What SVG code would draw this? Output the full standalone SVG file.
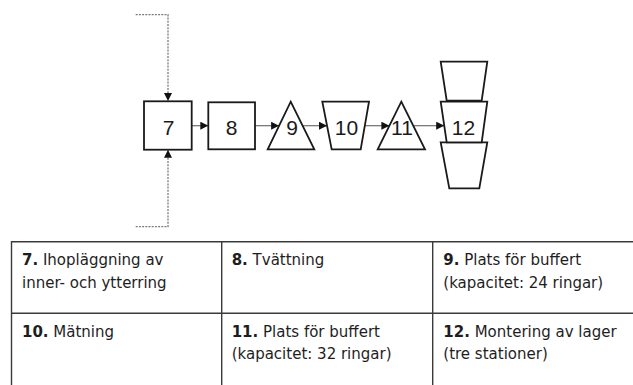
<svg xmlns="http://www.w3.org/2000/svg" width="633" height="385" viewBox="0 0 633 385">
  <style>
    .shape { fill: #ffffff; stroke: #1a1a1a; stroke-width: 1.8; stroke-linejoin: miter; }
    .num { font-family: "Liberation Sans", Arial, sans-serif; font-size: 21px; fill: #1a1a1a; text-anchor: middle; }
    .flow { fill: none; stroke: #6e6e6e; stroke-width: 1.2; marker-end: url(#head); }
    .feed { fill: none; stroke: #7a7a7a; stroke-width: 1.3; stroke-dasharray: 2 1.2; marker-end: url(#head); }
    .grid { stroke: #3a3a3a; stroke-width: 1.4; fill: none; }
    .cell { font-family: "DejaVu Sans", Verdana, sans-serif; font-size: 15px; fill: #1e1e1e; }
    .cell tspan.b { font-weight: bold; }
  </style>
  <defs>
    <marker id="head" viewBox="0 0 10 10" refX="10" refY="5" markerWidth="8" markerHeight="8" markerUnits="userSpaceOnUse" orient="auto">
      <path d="M0,0 L10,5 L0,10 Z" fill="#111111"/>
    </marker>
  </defs>

  <!-- process flow connectors -->
  <g id="connectors">
    <polyline class="feed" points="135.7,14.7 168,14.7 168,101"/>
    <polyline class="feed" points="135.7,226.7 168,226.7 168,149.7"/>
    <line class="flow" x1="191.7" y1="125.7" x2="208.3" y2="125.7"/>
    <line class="flow" x1="255" y1="125.7" x2="279.1" y2="125.7"/>
    <line class="flow" x1="302.6" y1="125.7" x2="327" y2="125.7"/>
    <line class="flow" x1="364.8" y1="125.7" x2="389.4" y2="125.7"/>
    <line class="flow" x1="413.3" y1="125.7" x2="444.2" y2="125.7"/>
  </g>

  <!-- stations -->
  <g id="node-7">
    <rect class="shape" x="144" y="101.3" width="47.7" height="48.4"/>
    <text class="num" x="168.5" y="134.7">7</text>
  </g>
  <g id="node-8">
    <rect class="shape" x="208.3" y="102.3" width="46.7" height="47"/>
    <text class="num" x="231.7" y="134.7">8</text>
  </g>
  <g id="node-9">
    <polygon class="shape" points="290.7,101.7 314.3,149.3 267.7,149.3"/>
    <text class="num" x="292" y="134.7">9</text>
  </g>
  <g id="node-10">
    <polygon class="shape" points="322.3,101.7 369,101.7 360.7,149.3 331.7,149.3"/>
    <text class="num" x="346.5" y="134.7">10</text>
  </g>
  <g id="node-11">
    <polygon class="shape" points="401.3,101.7 425,149.3 377.7,149.3"/>
    <text class="num" x="402" y="134.7">11</text>
  </g>
  <g id="node-12">
    <polygon class="shape" points="440.7,61.7 487.3,61.7 481.7,100.7 446.7,100.7"/>
    <polygon class="shape" points="449.3,188.3 479.3,188.3 487.3,142.3 440.7,142.3"/>
    <polygon class="shape" points="440.7,101.7 487.3,101.7 481.7,142.3 446.7,142.3"/>
    <text class="num" x="463.5" y="134.7">12</text>
  </g>

  <!-- legend table -->
  <g id="legend">
    <line class="grid" x1="11" y1="241.7" x2="633" y2="241.7"/>
    <line class="grid" x1="11" y1="313.3" x2="633" y2="313.3"/>
    <line class="grid" x1="11.5" y1="241" x2="11.5" y2="385"/>
    <line class="grid" x1="221.7" y1="241" x2="221.7" y2="385"/>
    <line class="grid" x1="432.7" y1="241" x2="432.7" y2="385"/>

    <text class="cell" x="22" y="265"><tspan class="b">7.</tspan> Ihopläggning av</text>
    <text class="cell" x="22" y="288">inner- och ytterring</text>
    <text class="cell" x="231.7" y="265"><tspan class="b">8.</tspan> Tvättning</text>
    <text class="cell" x="443.3" y="265"><tspan class="b">9.</tspan> Plats för buffert</text>
    <text class="cell" x="443.3" y="288">(kapacitet: 24 ringar)</text>

    <text class="cell" x="22" y="336.7"><tspan class="b">10.</tspan> Mätning</text>
    <text class="cell" x="231.7" y="336.7"><tspan class="b">11.</tspan> Plats för buffert</text>
    <text class="cell" x="231.7" y="359">(kapacitet: 32 ringar)</text>
    <text class="cell" x="443.3" y="336.7"><tspan class="b">12.</tspan> Montering av lager</text>
    <text class="cell" x="443.3" y="359">(tre stationer)</text>
  </g>
</svg>
